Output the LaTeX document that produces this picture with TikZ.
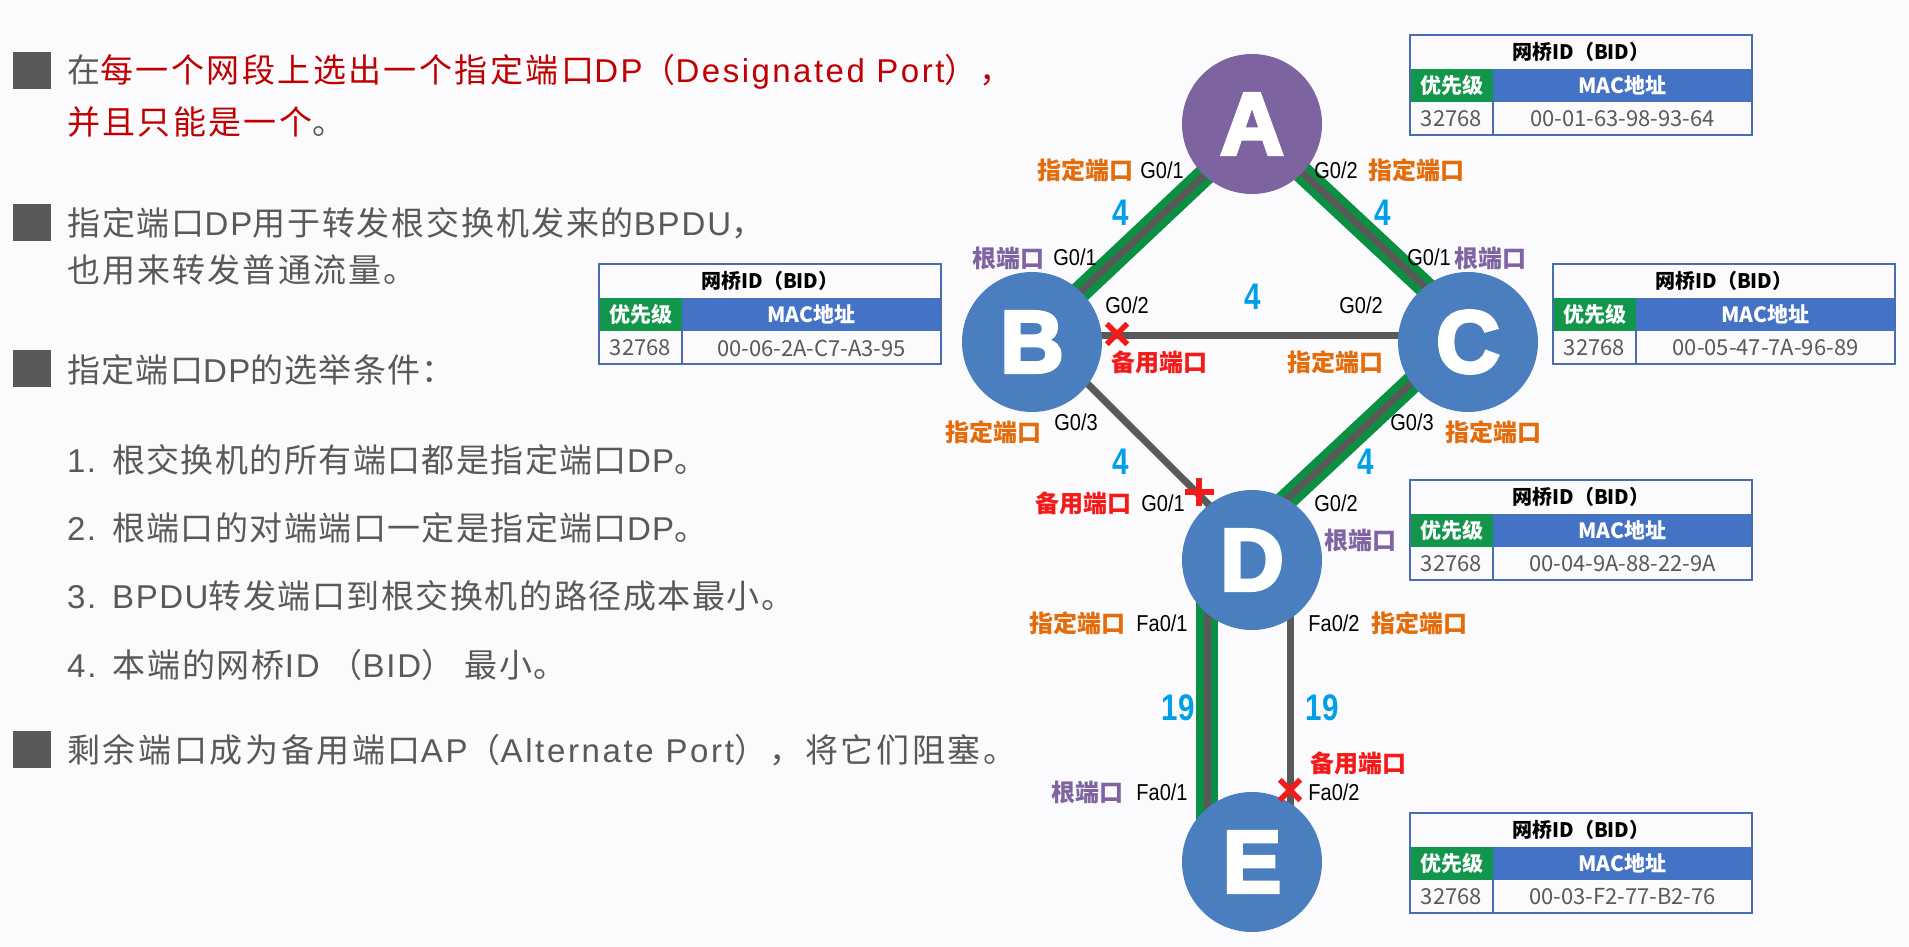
\documentclass[tikz,border=0pt]{standalone}
\usepackage{fontspec}
\setmainfont{Liberation Sans}
\newfontfamily\cjk{Noto Sans CJK SC}
\newfontfamily\narrowfont[FakeStretch=0.87]{Liberation Sans}
\newfontfamily\costfont[FakeStretch=0.8]{Liberation Sans}
\newfontfamily\heavy[UprightFont={* Bold},FakeBold=4]{Liberation Sans}
\usetikzlibrary{shapes.misc}

\definecolor{txtgray}{HTML}{595959}
\definecolor{txtred}{HTML}{C00000}
\definecolor{lblorange}{HTML}{E46C0A}
\definecolor{lblpurple}{HTML}{8064A2}
\definecolor{lblred}{HTML}{F51A1A}
\definecolor{costblue}{HTML}{00A0E9}
\definecolor{nodeblue}{HTML}{4A7EBF}
\definecolor{nodepurple}{HTML}{7E63A1}
\definecolor{linkgreen}{HTML}{0A8F43}
\definecolor{linkgray}{HTML}{595959}
\definecolor{tgreen}{HTML}{12964C}
\definecolor{tblue}{HTML}{4472C4}
\definecolor{tborder}{HTML}{4A6CB0}
\definecolor{bgcol}{HTML}{FBFBFD}

% tracking for a text line, shared by the CJK and the Latin runs in it
\def\curls{0}
\newcommand\ls[1]{\def\curls{#1}\addfontfeature{LetterSpace=#1}}
\newcommand\la[1]{{\rmfamily\addfontfeature{LetterSpace=\curls}#1}}

\pgfdeclarelayer{backdrop}
\pgfdeclarelayer{bg}
\pgfsetlayers{backdrop,bg,main}

% bridge ID table: name, left x, top y, MAC address
\newcommand\BidTable[4]{%
  \begin{scope}[shift={(#2,#3)}]
    \fill[tgreen] (0,34) rectangle (83,67);
    \fill[tblue] (83,34) rectangle (342,67);
    \draw[tborder,line width=1.6pt] (0,0) rectangle (342,100);
    \draw[tborder,line width=1.6pt] (83,67) -- (83,100);
    \node[ttitle] (#1-title) at (171,17) {网桥ID（BID）};
    \node[thead] (#1-prio) at (41.5,50.5) {优先级};
    \node[thead] (#1-mac) at (212.5,50.5) {MAC地址};
    \node[tcell] (#1-pv) at (41.5,84) {32768};
    \node[tcell] (#1-mv) at (212.5,84) {#4};
  \end{scope}}

\tikzset{
  sw/.style={circle, minimum size=140pt, inner sep=0pt, text=white,
    font=\heavy\fontsize{88pt}{88pt}\selectfont},
  port/.style={inner sep=0pt, text=black, font=\narrowfont\fontsize{23pt}{23pt}\selectfont},
  role/.style={inner sep=0pt, font=\cjk\bfseries\fontsize{24pt}{24pt}\selectfont},
  dp/.style={role, text=lblorange},
  rp/.style={role, text=lblpurple},
  ap/.style={role, text=lblred},
  cost/.style={inner sep=0pt, text=costblue, font=\costfont\bfseries\fontsize{37pt}{37pt}\selectfont},
  uplink/.style={draw=linkgreen, line width=7.5pt, double=linkgray, double distance=7pt,
    shorten <=-6pt, shorten >=-6pt},
  plainlink/.style={draw=linkgray, line width=7pt, shorten <=-6pt, shorten >=-6pt},
  blocked/.style={cross out, draw=lblred, line width=5.5pt, minimum size=15pt, inner sep=0pt},
  ttitle/.style={inner sep=0pt, text=black, font=\cjk\bfseries\fontsize{20pt}{20pt}\selectfont},
  thead/.style={inner sep=0pt, text=white, font=\cjk\bfseries\fontsize{21pt}{21pt}\selectfont},
  tcell/.style={inner sep=0pt, text=txtgray, font=\cjk\fontsize{22pt}{22pt}\selectfont},
  body/.style={inner sep=0pt, anchor=west, text=txtgray, font=\cjk\fontsize{33pt}{40pt}\selectfont},
  bullet/.style={fill=txtgray, minimum width=38pt, minimum height=37pt, inner sep=0pt},
}

\begin{document}
\begin{tikzpicture}[x=1pt,y=-1pt]
\useasboundingbox (0,0) rectangle (1909,947);
\begin{pgfonlayer}{backdrop}
  \fill[bgcol] (0,0) rectangle (1909,947);
\end{pgfonlayer}

% ---- explanatory text ----
\node[bullet] (b1) at (32,71) {};
\node[body] (t1) at (67,72) {\ls{7.5}在{\color{txtred}每一个网段上选出一个指定端口\la{DP}（\la{Designated Port}），}};
\node[body] (t2) at (67,122) {\ls{7}{\color{txtred}并且只能是一个}。};
\node[bullet] (b2) at (32,222) {};
\node[body] (t3) at (67,223) {\ls{5.6}指定端口\la{DP}用于转发根交换机发来的\la{BPDU}，};
\node[body] (t4) at (67,270) {\ls{6.5}也用来转发普通流量。};
\node[bullet] (b3) at (32,368) {};
\node[body] (t5) at (67,370) {\ls{4}指定端口\la{DP}的选举条件：};
\node[body] (t6) at (67,460) {\ls{4.3}\la{1.}\hspace{16pt}根交换机的所有端口都是指定端口\la{DP}。};
\node[body] (t7) at (67,528) {\ls{4.3}\la{2.}\hspace{16pt}根端口的对端端口一定是指定端口\la{DP}。};
\node[body] (t8) at (67,596) {\ls{4.7}\la{3.}\hspace{16pt}\la{BPDU}转发端口到根交换机的路径成本最小。};
\node[body] (t9) at (67,665) {\ls{5.5}\la{4.}\hspace{16pt}本端的网桥\la{ID}\hspace{10pt}（\la{BID}）\hspace{10pt}最小。};
\node[bullet] (b4) at (32,749) {};
\node[body] (t10) at (67,750) {\ls{8}剩余端口成为备用端口\la{AP}（\la{Alternate Port}），将它们阻塞。};

% ---- switches ----
\node[sw, fill=nodepurple] (A) at (1252,124) {A};
\node[sw, fill=nodeblue] (B) at (1032,342) {B};
\node[sw, fill=nodeblue] (C) at (1468,342) {C};
\node[sw, fill=nodeblue] (D) at (1252,560) {D};
\node[sw, fill=nodeblue] (E) at (1252,862) {E};

% ---- links ----
\begin{pgfonlayer}{bg}
  \draw[uplink] (A.227) -- (B.46);
  \draw[uplink] (A.316) -- (C.128);
  \draw[uplink] (C.216) -- (D.60);
  \draw[plainlink] (B.5) -- (C.175);
  \draw[plainlink] (B.323) -- (D.128);
  \draw[uplink, shorten <=0pt, shorten >=0pt] ([xshift=-45pt]D.center) -- ([xshift=-45pt]E.center);
  \draw[plainlink, shorten <=0pt, shorten >=0pt] ([xshift=38pt]D.center) -- ([xshift=38pt]E.center);
\end{pgfonlayer}

% ---- blocked ports ----
\node[blocked] (xBC) at (1117,334) {};
\node[blocked, rotate=45] (xBD) at (1199,492) {};
\node[blocked] (xDE) at (1290,790) {};

% ---- port names and roles ----
\node[dp] (l1) at (1085,170) {指定端口};
\node[port] (p1) at (1162,170) {G0/1};
\node[port] (p2) at (1336,170) {G0/2};
\node[dp] (l2) at (1416,170) {指定端口};
\node[rp] (l3) at (1008,258) {根端口};
\node[port] (p3) at (1075,257) {G0/1};
\node[port] (p4) at (1429,257) {G0/1};
\node[rp] (l4) at (1490,258) {根端口};
\node[port] (p5) at (1127,305) {G0/2};
\node[port] (p6) at (1361,305) {G0/2};
\node[ap] (l5) at (1159,362) {备用端口};
\node[dp] (l6) at (1335,362) {指定端口};
\node[dp] (l7) at (993,432) {指定端口};
\node[port] (p7) at (1076,422) {G0/3};
\node[port] (p8) at (1412,422) {G0/3};
\node[dp] (l8) at (1493,432) {指定端口};
\node[ap] (l9) at (1083,503) {备用端口};
\node[port] (p9) at (1163,503) {G0/1};
\node[port] (p10) at (1336,503) {G0/2};
\node[rp] (l10) at (1360,540) {根端口};
\node[dp] (l11) at (1077,623) {指定端口};
\node[port] (p11) at (1162,623) {Fa0/1};
\node[port] (p12) at (1334,623) {Fa0/2};
\node[dp] (l12) at (1419,623) {指定端口};
\node[ap] (l13) at (1358,763) {备用端口};
\node[rp] (l14) at (1087,792) {根端口};
\node[port] (p13) at (1162,792) {Fa0/1};
\node[port] (p14) at (1334,792) {Fa0/2};

% ---- path costs ----
\node[cost] (c1) at (1121,213) {4};
\node[cost] (c2) at (1383,213) {4};
\node[cost] (c3) at (1253,297) {4};
\node[cost] (c4) at (1121,462) {4};
\node[cost] (c5) at (1366,462) {4};
\node[cost] (c6) at (1178,708) {19};
\node[cost] (c7) at (1322,708) {19};

% ---- bridge IDs ----
\BidTable{tA}{1410}{35}{00-01-63-98-93-64}
\BidTable{tB}{599}{264}{00-06-2A-C7-A3-95}
\BidTable{tC}{1553}{264}{00-05-47-7A-96-89}
\BidTable{tD}{1410}{480}{00-04-9A-88-22-9A}
\BidTable{tE}{1410}{813}{00-03-F2-77-B2-76}
\end{tikzpicture}
\end{document}
